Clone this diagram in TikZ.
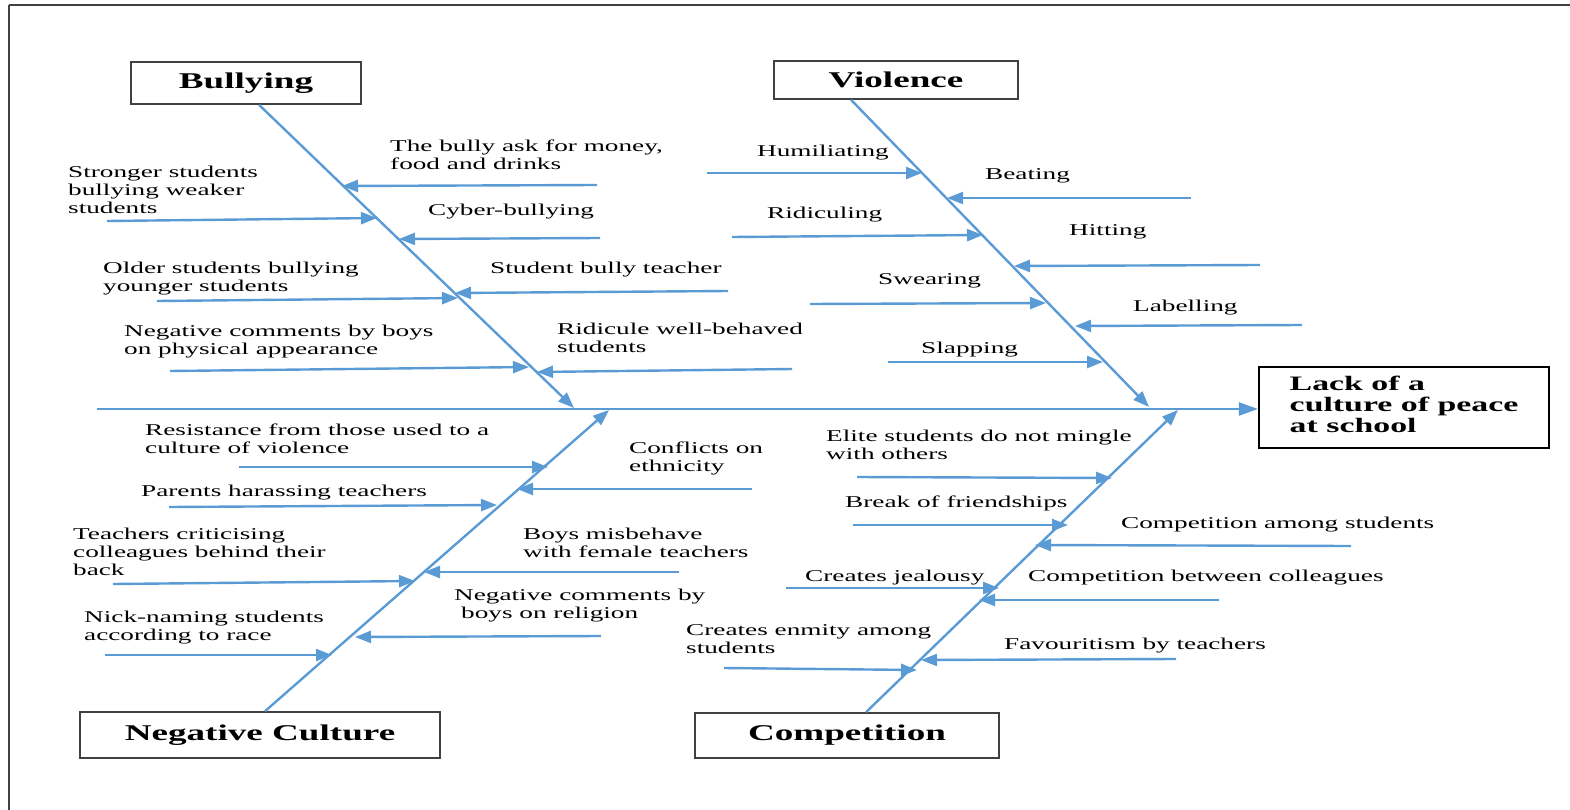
\documentclass[tikz,border=0pt]{standalone}
\usepackage{fontspec}
\setmainfont{Liberation Serif}[FakeStretch=1.65]
\usetikzlibrary{arrows.meta}
\definecolor{bonecol}{HTML}{5B9BD5}
\definecolor{framecol}{HTML}{404040}
\newcommand{\causetext}[1]{\begin{tabular}[t]{@{}l@{}}#1\end{tabular}}

\begin{document}
\begin{tikzpicture}[x=1pt,y=-1pt,
  bone/.style={draw=bonecol, line width=2.4pt, -{Triangle[length=16pt,width=12pt]}},
  cause/.style={draw=bonecol, line width=2.4pt, -{Triangle[length=16pt,width=12pt]}},
  spine/.style={draw=bonecol, line width=2.4pt, -{Triangle[length=19pt,width=13pt]}},
  catbox/.style={draw=framecol, line width=1.6pt, inner sep=0pt,
    font=\fontsize{22.5}{26}\selectfont\bfseries},
  effectbox/.style={draw=black, line width=2.2pt, inner sep=0pt,
    minimum width=290pt, minimum height=81pt,
    font=\fontsize{20.5}{21}\selectfont\bfseries},
  causelbl/.style={anchor=base west, inner sep=0pt,
    font=\fontsize{16.5}{18}\selectfont},
]
\useasboundingbox (0,0) rectangle (1570,810);

% page frame (top and left rules)
\draw[framecol, line width=2.2pt] (9,5) -- (1570,5);
\draw[framecol, line width=1.5pt] (9,5) -- (9,810);

% effect and category boxes
\node[effectbox] (lack) at (1404,407.5)
  {\begin{tabular}{@{}l@{}}Lack of a\\culture of peace\\at school\end{tabular}};
\node[catbox, minimum width=230pt, minimum height=42pt] (bully) at (246,83) {Bullying};
\node[catbox, minimum width=244pt, minimum height=38pt] (viol) at (896,80) {Violence};
\node[catbox, minimum width=360pt, minimum height=46pt] (negc) at (260,735) {Negative Culture};
\node[catbox, minimum width=304pt, minimum height=45pt] (comp) at (847,735.5) {Competition};

% main spine
\coordinate (spinestart) at (97,409);
\draw[spine] (spinestart) -- (spinestart -| lack.west);

% category bones
\coordinate (bullytip) at (574,408);
\coordinate (violtip) at (1149,407);
\coordinate (negctip) at (609,410);
\coordinate (comptip) at (1178,410);
\draw[bone] ([xshift=13pt]bully.south) -- (bullytip);
\draw[bone] ([xshift=-45pt]viol.south) -- (violtip);
\draw[bone] ([xshift=5pt]negc.north) -- (negctip);
\draw[bone] ([xshift=19pt]comp.north) -- (comptip);

% ---- Bullying causes
\node[causelbl] (t1) at (68,177.5) {\causetext{Stronger students\\bullying weaker\\students}};
\node[causelbl] (t2) at (103,273.5) {\causetext{Older students bullying\\younger students}};
\node[causelbl] (t3) at (124,336.5) {\causetext{Negative comments by boys\\on physical appearance}};
\node[causelbl] (t4) at (390,151.5) {\causetext{The bully ask for money,\\food and drinks}};
\node[causelbl] (t5) at (428,216) {Cyber-bullying};
\node[causelbl] (t6) at (490,273.5) {Student bully teacher};
\node[causelbl] (t7) at (557,334.5) {\causetext{Ridicule well-behaved\\students}};
\coordinate (s1) at (107,221); \coordinate (e1) at (377,218);
\coordinate (s2) at (157,301); \coordinate (e2) at (458,298);
\coordinate (s3) at (170,371); \coordinate (e3) at (529,367);
\coordinate (s4) at (597,185); \coordinate (e4) at (342,186);
\coordinate (s5) at (600,238); \coordinate (e5) at (399,239);
\coordinate (s6) at (728,291); \coordinate (e6) at (455,293);
\coordinate (s7) at (792,369); \coordinate (e7) at (537,372);
\foreach \i in {1,...,7} \draw[cause] (s\i) -- (e\i);

% ---- Violence causes
\node[causelbl] (t8) at (757,156.5) {Humiliating};
\node[causelbl] (t9) at (767,218.5) {Ridiculing};
\node[causelbl] (t10) at (878,284.5) {Swearing};
\node[causelbl] (t11) at (921,353.5) {Slapping};
\node[causelbl] (t12) at (985,179.5) {Beating};
\node[causelbl] (t13) at (1069,235.5) {Hitting};
\node[causelbl] (t14) at (1133,311.5) {Labelling};
\coordinate (s8) at (707,173);  \coordinate (e8) at (922,173);
\coordinate (s9) at (732,237);  \coordinate (e9) at (983,235);
\coordinate (s10) at (810,304); \coordinate (e10) at (1046,303);
\coordinate (s11) at (888,362); \coordinate (e11) at (1103,362);
\coordinate (s12) at (1191,198); \coordinate (e12) at (947,198);
\coordinate (s13) at (1260,265); \coordinate (e13) at (1014,266);
\coordinate (s14) at (1302,325); \coordinate (e14) at (1075,326);
\foreach \i in {8,...,14} \draw[cause] (s\i) -- (e\i);

% ---- Negative Culture causes
\node[causelbl] (t15) at (145,435.5) {\causetext{Resistance from those used to a\\culture of violence}};
\node[causelbl] (t16) at (141,496.5) {Parents harassing teachers};
\node[causelbl] (t17) at (73,539.5) {\causetext{Teachers criticising\\colleagues behind their\\back}};
\node[causelbl] (t18) at (84,622.5) {\causetext{Nick-naming students\\according to race}};
\node[causelbl] (t19) at (629,453.5) {\causetext{Conflicts on\\ethnicity}};
\node[causelbl] (t20) at (523,539.5) {\causetext{Boys misbehave\\with female teachers}};
\node[causelbl] (t21) at (454,600.5) {\causetext{Negative comments by\\\hspace*{7pt}boys on religion}};
\coordinate (s15) at (239,467); \coordinate (e15) at (548,467);
\coordinate (s16) at (169,507); \coordinate (e16) at (497,505);
\coordinate (s17) at (113,584); \coordinate (e17) at (415,581);
\coordinate (s18) at (105,655); \coordinate (e18) at (332,655);
\coordinate (s19) at (752,489); \coordinate (e19) at (517,489);
\coordinate (s20) at (679,572); \coordinate (e20) at (424,572);
\coordinate (s21) at (601,636); \coordinate (e21) at (355,637);
\foreach \i in {15,...,21} \draw[cause] (s\i) -- (e\i);

% ---- Competition causes
\node[causelbl] (t22) at (826,441.5) {\causetext{Elite students do not mingle\\with others}};
\node[causelbl] (t23) at (845,507.5) {Break of friendships};
\node[causelbl] (t24) at (805,581.5) {Creates jealousy};
\node[causelbl] (t25) at (686,635.5) {\causetext{Creates enmity among\\students}};
\node[causelbl] (t26) at (1121,528.5) {Competition among students};
\node[causelbl] (t27) at (1028,581.5) {Competition between colleagues};
\node[causelbl] (t28) at (1004,649.5) {Favouritism by teachers};
\coordinate (s22) at (857,477); \coordinate (e22) at (1112,478);
\coordinate (s23) at (853,525); \coordinate (e23) at (1068,525);
\coordinate (s24) at (786,588); \coordinate (e24) at (999,588);
\coordinate (s25) at (724,668); \coordinate (e25) at (917,670);
\coordinate (s26) at (1351,546); \coordinate (e26) at (1035,545);
\coordinate (s27) at (1219,600); \coordinate (e27) at (979,600);
\coordinate (s28) at (1176,659); \coordinate (e28) at (921,660);
\foreach \i in {22,...,28} \draw[cause] (s\i) -- (e\i);
\end{tikzpicture}
\end{document}
